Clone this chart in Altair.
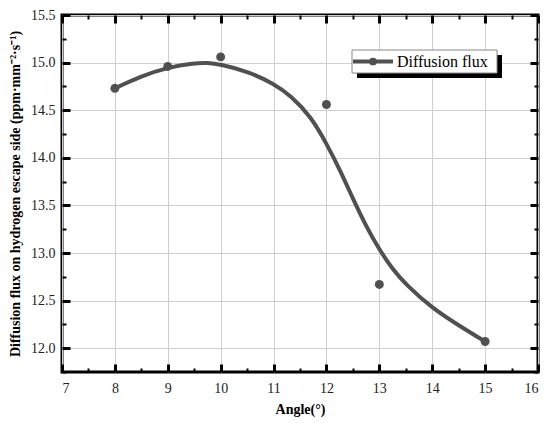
import altair as alt
import pandas as pd

# measured points
angle = [8, 9, 10, 12, 13, 15]
flux = [14.73, 14.96, 15.06, 14.56, 12.67, 12.07]

# fitted curve
curve_x = [8, 8.5, 9, 9.5, 9.75, 10, 10.5, 11, 11.33, 11.71, 12, 12.25, 12.5, 12.75, 13, 13.25, 13.5, 14, 14.5, 15]
curve_y = [14.73, 14.86, 14.95, 14.995, 15.0, 14.98, 14.91, 14.78, 14.65, 14.43, 14.15, 13.88, 13.57, 13.28, 13.035, 12.83, 12.67, 12.42, 12.24, 12.07]

x_major = [7, 8, 9, 10, 11, 12, 13, 14, 15, 16]
x_minor = [7.5, 8.5, 9.5, 10.5, 11.5, 12.5, 13.5, 14.5, 15.5]
y_major = [12.0, 12.5, 13.0, 13.5, 14.0, 14.5, 15.0, 15.5]
y_minor = [11.75, 12.25, 12.75, 13.25, 13.75, 14.25, 14.75, 15.25]

x_title = "Angle(°)"
y_title = "Diffusion flux on hydrogen escape side (ppm·mm⁻²·s⁻¹)"
legend_label = "Diffusion flux"

pts = pd.DataFrame({"angle": angle, "flux": flux})
crv = pd.DataFrame({"angle": curve_x, "flux": curve_y})

GRAY = "#505050"
xs = alt.Scale(domain=[7, 16], nice=False, zero=False)
ys = alt.Scale(domain=[11.75, 15.5], nice=False, zero=False)

LABEL_FONT = "Liberation Serif"

curve = alt.Chart(crv).mark_line(color=GRAY, strokeWidth=4, interpolate="basis").encode(
    x=alt.X("angle:Q", scale=xs, axis=alt.Axis(
        orient="bottom", values=x_major, grid=True, gridColor="#cfcfcf", gridWidth=1,
        ticks=False, tickSize=0, domain=False, labelPadding=9, labelFont=LABEL_FONT,
        labelFontSize=14, labelColor="#222", title=x_title, titleFont="Liberation Serif",
        titleFontSize=14, titleFontWeight="bold", titleColor="black", titlePadding=7)),
    y=alt.Y("flux:Q", scale=ys, axis=alt.Axis(
        orient="left", values=y_major, format=".1f", grid=True, gridColor="#cfcfcf", gridWidth=1,
        ticks=False, tickSize=0, domain=False, labelPadding=7, labelFont=LABEL_FONT,
        labelFontSize=14, labelColor="#222", title=y_title, titleFont="Liberation Serif",
        titleFontSize=14, titleFontWeight="bold", titleColor="black", titlePadding=8)),
)

points = alt.Chart(pts).mark_circle(color=GRAY, size=80, opacity=1).encode(
    x=alt.X("angle:Q", scale=xs, axis=alt.Axis(
        orient="bottom", values=x_major, offset=-8, tickSize=8, tickWidth=3, tickColor="black",
        labels=False, domain=False, grid=False, title=None)),
    y=alt.Y("flux:Q", scale=ys, axis=alt.Axis(
        orient="left", values=y_major, offset=-8, tickSize=8, tickWidth=3, tickColor="black",
        labels=False, domain=False, grid=False, title=None)),
)


def tick_layer(xorient, yorient, xvals, yvals, size, width):
    return alt.Chart(pts).mark_point(opacity=0).encode(
        x=alt.X("angle:Q", scale=xs, axis=alt.Axis(
            orient=xorient, values=xvals, offset=-size, tickSize=size, tickWidth=width,
            tickColor="black", labels=False, domain=False, grid=False, title=None)),
        y=alt.Y("flux:Q", scale=ys, axis=alt.Axis(
            orient=yorient, values=yvals, offset=-size, tickSize=size, tickWidth=width,
            tickColor="black", labels=False, domain=False, grid=False, title=None)),
    )


minor_bl = tick_layer("bottom", "left", x_minor, y_minor, 4, 2)
major_tr = tick_layer("top", "right", x_major, y_major, 8, 3)
minor_tr = tick_layer("top", "right", x_minor, y_minor, 4, 2)

one = pd.DataFrame({"k": [0]})
shadow = alt.Chart(one).mark_rect(color="black").encode(
    x=alt.value(295), x2=alt.value(440), y=alt.value(40), y2=alt.value(63))
box = alt.Chart(one).mark_rect(fill="white", stroke="#888", strokeWidth=1).encode(
    x=alt.value(290), x2=alt.value(435), y=alt.value(35), y2=alt.value(58))
leg_line = alt.Chart(one).mark_rule(color=GRAY, strokeWidth=4).encode(
    x=alt.value(291), x2=alt.value(331), y=alt.value(46.5))
leg_dot = alt.Chart(one).mark_circle(color=GRAY, size=60, opacity=1).encode(
    x=alt.value(311), y=alt.value(46.5))
leg_text = alt.Chart(one).mark_text(
    text=legend_label, font="Liberation Serif", fontSize=16, align="left",
    baseline="middle", color="black").encode(x=alt.value(335), y=alt.value(47))

chart = alt.layer(
    curve, points, minor_bl, major_tr, minor_tr,
    shadow, box, leg_line, leg_dot, leg_text
).resolve_axis(x="independent", y="independent").properties(
    width=476, height=357,
    autosize=alt.AutoSizeParams(type="none"),
    padding={"left": 54, "top": 7, "right": 4, "bottom": 50},
).configure_view(stroke="black", strokeWidth=3).configure_axis(
    zindex=1, labelFont=LABEL_FONT, titleFont="Liberation Serif")

chart.save("out.html", embed_options={"renderer": "svg", "actions": False})
